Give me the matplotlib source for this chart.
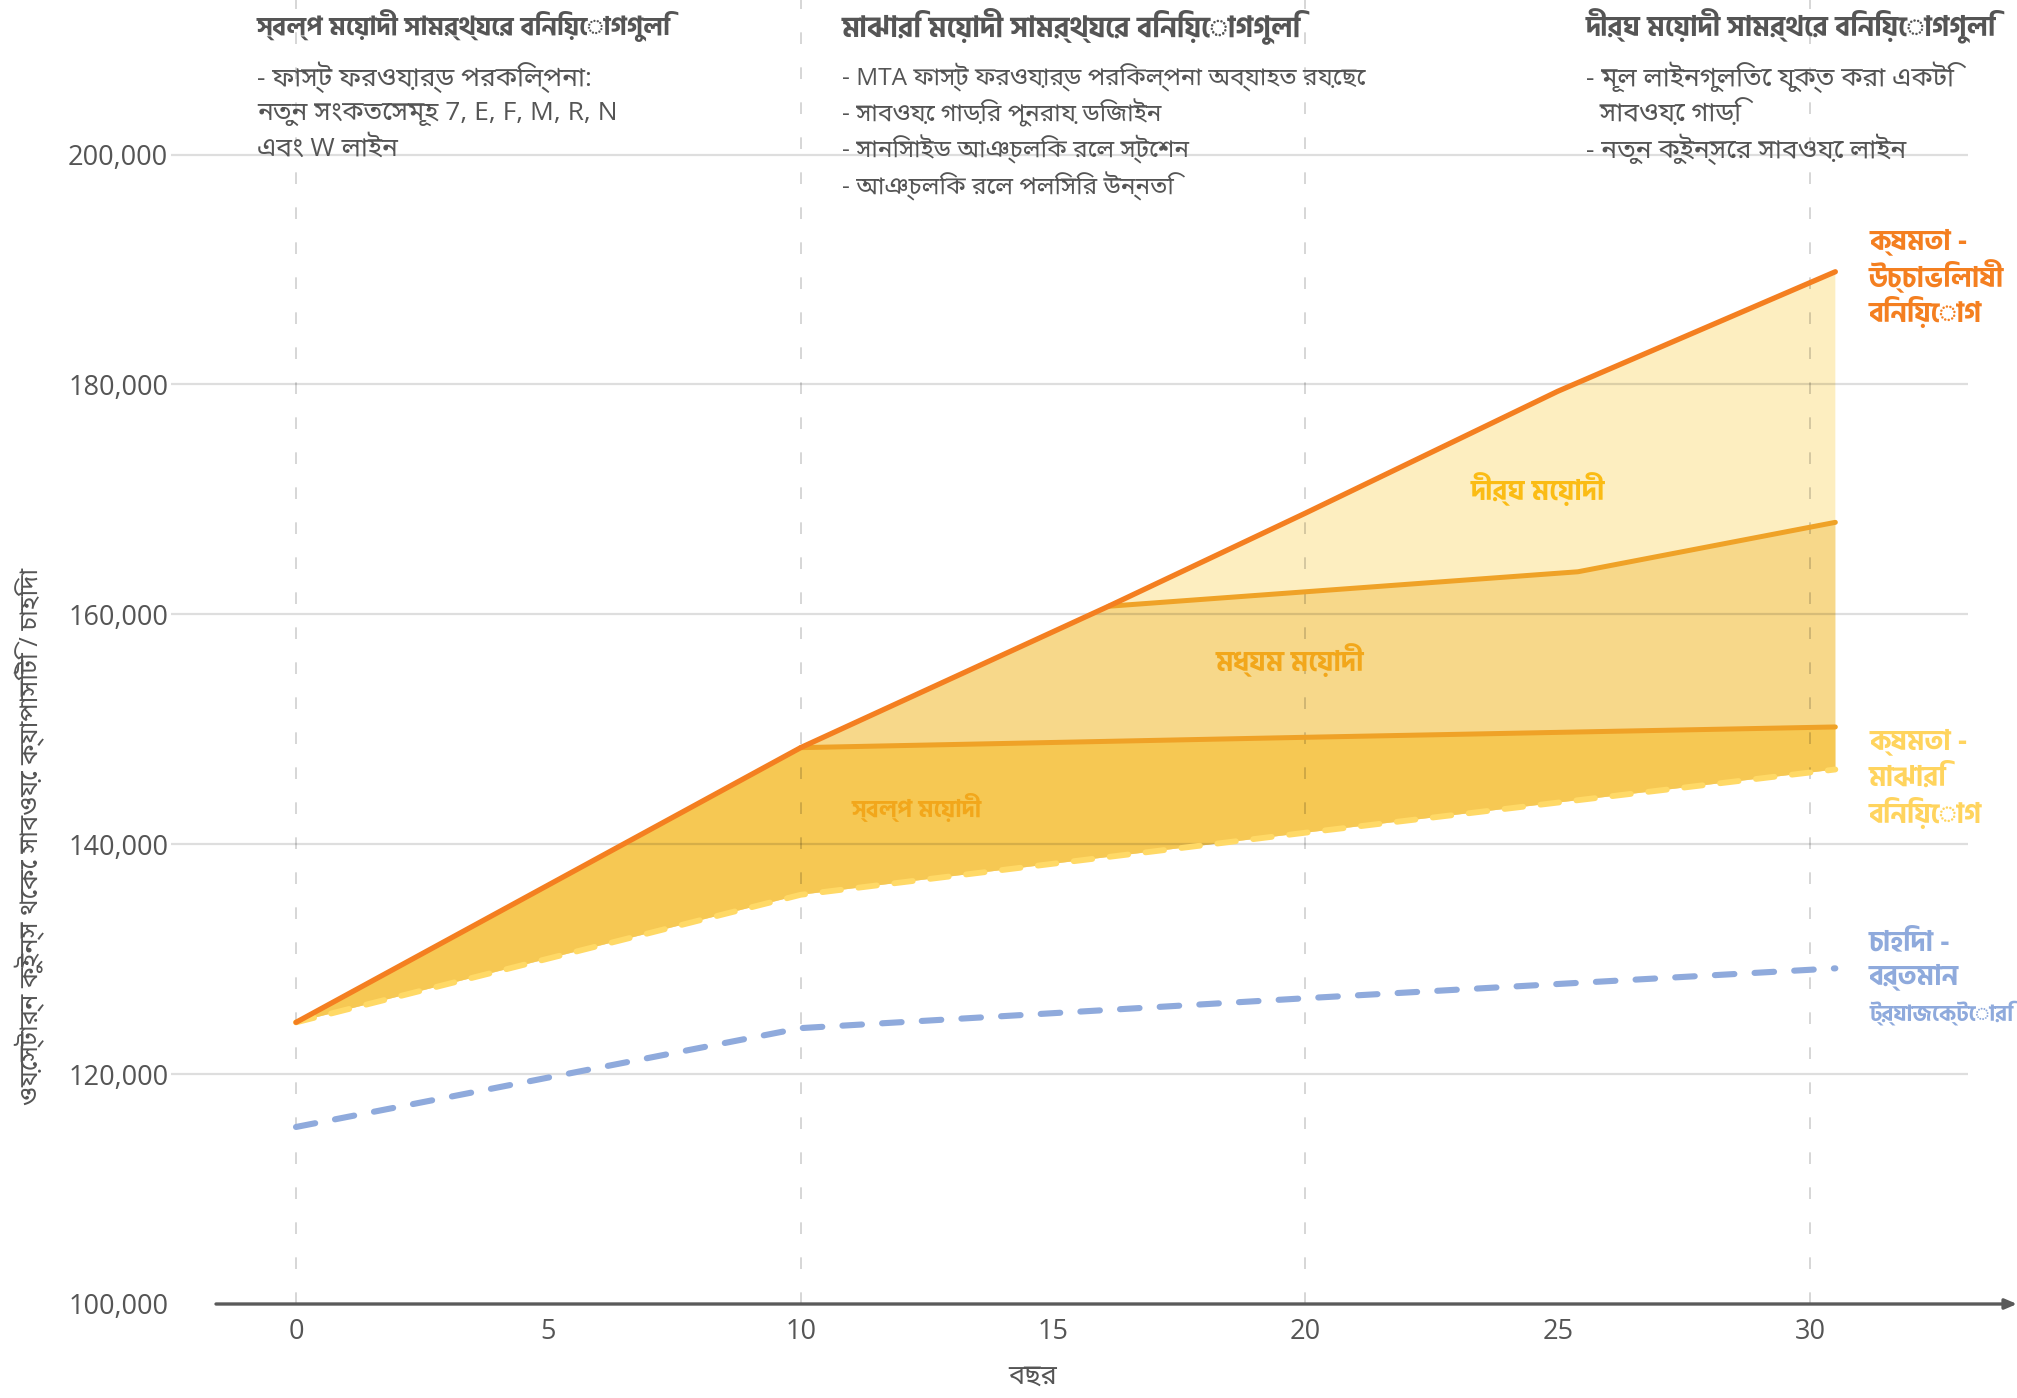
import numpy as np
import matplotlib
matplotlib.use("Agg")
import matplotlib.pyplot as plt
from matplotlib import font_manager
from matplotlib.ft2font import FT2Font

# ---------------- data ----------------
years_amb = [0, 10, 16.1, 20, 25, 30.5]
cap_ambitious = [124500, 148400, 160700, 168800, 179400, 189800]

years_mid_top = [16.1, 25.4, 30.5]
mid_term_top = [160700, 163700, 168000]

years_short_top = [10, 20, 30.5]
short_term_top = [148400, 149300, 150200]

years_mod = [0, 10, 20, 30.5]
cap_moderate = [124500, 135600, 141000, 146500]

years_dem = [0, 10, 20, 30.5]
demand = [115400, 124000, 126600, 129200]

x_ticks = [0, 5, 10, 15, 20, 25, 30]
y_ticks = [100000, 120000, 140000, 160000, 180000, 200000]

headers = [
    "স্বল্প মেয়াদী সামর্থ্যের বিনিয়োগগুলি",
    "মাঝারি মেয়াদী সামর্থ্যের বিনিয়োগগুলি",
    "দীর্ঘ মেয়াদী সামর্থের বিনিয়োগগুলি",
]
bodies = [
    ["- ফাস্ট ফরওয়ার্ড পরকিল্পনা:", "নতুন সংকতেসমূহ 7, E, F, M, R, N", "এবং W লাইন"],
    ["- MTA ফাস্ট ফরওয়ার্ড পরিকল্পনা অব্যাহত রয়েছে", "- সাবওয়ে গাড়ির পুনরায় ডিজাইন",
     "- সানিসাইড আঞ্চলিক রেল স্টেশন", "- আঞ্চলিক রেল পলিসির উন্নতি"],
    ["- মূল লাইনগুলিতে যুক্ত করা একটি", "  সাবওয়ে গাড়ি", "- নতুন কুইন্সের সাবওয়ে লাইন"],
]
label_amb = ["ক্ষমতা -", "উচ্চাভিলাষী", "বিনিয়োগ"]
label_mod = ["ক্ষমতা -", "মাঝারি", "বিনিয়োগ"]
label_dem = ["চাহিদা -", "বর্তমান", "ট্র্যাজেক্টোরি"]
region_labels = ["দীর্ঘ মেয়াদী", "মধ্যম মেয়াদী", "স্বল্প মেয়াদী"]
x_label = "বছর"
y_label = "ওয়েস্টার্ন কুইন্স থেকে সাবওয়ে ক্যাপাসিটি / চাহিদা"

# ---------------- fonts ----------------
def bengali_fonts():
    seen, info = set(), {}
    for f in font_manager.fontManager.ttflist:
        if f.fname in seen:
            continue
        seen.add(f.fname)
        try:
            cm = FT2Font(f.fname).get_charmap()
        except Exception:
            continue
        if 0x0995 in cm and 0x09BE in cm:
            w = f.weight if isinstance(f.weight, int) else font_manager.weight_dict.get(f.weight, 400)
            info.setdefault(f.name, set()).add(w)
    return info

info = bengali_fonts()
preferred = ["Noto Sans Bengali", "Hind Siliguri", "Noto Sans Bengali UI", "Anek Bangla",
             "Lohit Bengali", "Baloo Da 2", "Galada", "Mina", "Atma"]
with_bold = [p for p in preferred if p in info and max(info[p]) >= 600]
beng_regular = next((p for p in preferred if p in info), next(iter(info), None))
beng_bold = with_bold[0] if with_bold else beng_regular

fam_reg = ["Open Sans"] + ([beng_regular] if beng_regular else []) + ["DejaVu Sans"]
fam_bold = ["Open Sans"] + ([beng_bold] if beng_bold else []) + ["DejaVu Sans"]
plt.rcParams["font.family"] = fam_reg

# ---------------- colours ----------------
c_orange = "#F47F20"
c_amber = "#EFA227"
c_ylw_dash = "#FFD966"
c_blue = "#8FAADC"
c_fill_dark = "#F6C853"
c_fill_mid = "#F7D88A"
c_fill_light = "#FDEEC0"
c_text = "#555555"

W, H = 2017, 1398
fig = plt.figure(figsize=(W / 100, H / 100), dpi=100)

# axes geometry (pixel based)
x0_px, px_per_year = 296, 50.47
y100_px, px_per_k = 1304, 11.495
ax_left_px = 171
ax = fig.add_axes([ax_left_px / W, (H - y100_px) / H, 1 - ax_left_px / W, y100_px / H])
xmin = (ax_left_px - x0_px) / px_per_year
xmax = (W - x0_px) / px_per_year
ymax = 100000 + y100_px / px_per_k * 1000
ax.set_xlim(xmin, xmax)
ax.set_ylim(100000, ymax)
for s in ax.spines.values():
    s.set_visible(False)

# fills (polygons from the series' own points)
def poly(top_x, top_y, bot_x, bot_y):
    xs = list(top_x) + list(bot_x[::-1])
    ys = list(top_y) + list(bot_y[::-1])
    return xs, ys

xs, ys = poly(years_amb, cap_ambitious, years_mod, cap_moderate)
ax.fill(xs, ys, color=c_fill_light, lw=0, zorder=1)
i_mid = years_amb.index(years_mid_top[0])
xs, ys = poly(years_amb[:i_mid] + years_mid_top, cap_ambitious[:i_mid] + mid_term_top, years_mod, cap_moderate)
ax.fill(xs, ys, color=c_fill_mid, lw=0, zorder=1)
i_sh = years_amb.index(years_short_top[0])
xs, ys = poly(years_amb[:i_sh] + years_short_top, cap_ambitious[:i_sh] + short_term_top, years_mod, cap_moderate)
ax.fill(xs, ys, color=c_fill_dark, lw=0, zorder=1)

# grid lines
grid_right = (1968 - x0_px) / px_per_year
ax.hlines(y_ticks[1:], xmin, grid_right, color=(0, 0, 0, 0.13), lw=1.6, zorder=2)
for xv in [0, 10, 20, 30]:
    ax.plot([xv, xv], [100000, ymax], color=(0, 0, 0, 0.16), lw=1.4,
            linestyle=(0, (6, 12)), zorder=2, clip_on=False)

# lines
ax.plot(years_short_top, short_term_top, color=c_amber, lw=3.6, solid_capstyle="round", zorder=4)
ax.plot(years_mid_top, mid_term_top, color=c_amber, lw=3.6, solid_capstyle="round", zorder=4)
ax.plot(years_mod, cap_moderate, color=c_ylw_dash, lw=4.2, linestyle=(0, (3.2, 3.0)),
        dash_capstyle="round", zorder=4)
ax.plot(years_amb, cap_ambitious, color=c_orange, lw=3.8, solid_capstyle="round", zorder=5)
ax.plot(years_dem, demand, color=c_blue, lw=4.4, linestyle=(0, (3.2, 3.3)),
        dash_capstyle="round", zorder=4)

# x axis with arrow
ax.annotate("", xy=(xmax, 100000), xytext=((216 - x0_px) / px_per_year, 100000),
            arrowprops=dict(arrowstyle="-|>,head_length=0.7,head_width=0.3", color="#5A5A5A",
                            lw=2.4, shrinkA=0, shrinkB=0),
            annotation_clip=False, zorder=6)

# ticks
ax.set_xticks(x_ticks)
ax.set_xticklabels([str(v) for v in x_ticks])
ax.set_yticks(y_ticks)
ax.set_yticklabels([f"{v:,}" for v in y_ticks])
ax.tick_params(axis="both", length=0, colors=c_text, labelsize=19.5)
ax.tick_params(axis="x", pad=10)
ax.tick_params(axis="y", pad=2)

xl = ax.set_xlabel(x_label, fontsize=19.5, color=c_text)
ax.xaxis.set_label_coords((14.6 - xmin) / (xmax - xmin), -0.045)
yl = ax.set_ylabel(y_label, fontsize=19.5, color=c_text)
ax.yaxis.set_label_coords((45 - ax_left_px) / (W - ax_left_px), (y100_px - 836) / y100_px)

groups = []  # (list of texts, target width of widest line px, max fontsize)

def line_block(x_px, y_centers_px, lines, fs, bold, color):
    ts = []
    for yc, ln in zip(y_centers_px, lines):
        ts.append(fig.text(x_px / W, 1 - yc / H, ln, fontsize=fs,
                           fontweight="bold" if bold else "normal",
                           family=fam_bold if bold else fam_reg,
                           color=color, ha="left", va="center"))
    return ts

# headers
head_x = [257, 842, 1586]
head_w = [413, 459, 411]
body_w = [361, 523, 370]
body_y = [77, 113, 149, 186]
for hx, h, b, hw, bw in zip(head_x, headers, bodies, head_w, body_w):
    groups.append((line_block(hx, [26], [h], 22, True, c_text), hw, 22))
    groups.append((line_block(hx, body_y[:len(b)], b, 19, False, c_text), bw, 19))

# right-hand series labels
groups.append((line_block(1869, [242, 277, 313], label_amb, 20, True, c_orange), 144, 20))
groups.append((line_block(1869, [742, 778, 814], label_mod, 20, True, "#FFD45E"), 113, 20))
for tt in line_block(1869, [943, 977, 1013], label_dem, 20, True, c_blue):
    groups.append(([tt], 144, 20))

# region labels
for (xv, yv, txt, col, tw) in [(24.6, 170800, region_labels[0], "#FBBC15", 136),
                               (19.7, 155900, region_labels[1], "#F2A71B", 152),
                               (12.3, 143100, region_labels[2], "#F2A71B", 130)]:
    t = ax.text(xv, yv, txt, fontsize=20, fontweight="bold", family=fam_bold, color=col,
                ha="center", va="center", zorder=7)
    groups.append(([t], tw, 20))
groups.append(([xl], 55, 19.5))

fig.canvas.draw()
r = fig.canvas.get_renderer()
for ts, target, mx in groups:
    w = max(t.get_window_extent(r).width for t in ts)
    if w > 0:
        fs = min(mx, ts[0].get_fontsize() * target / w)
        for t in ts:
            t.set_fontsize(fs)
h = yl.get_window_extent(r).height
if h > 0:
    yl.set_fontsize(min(19.5, yl.get_fontsize() * 538 / h))

fig.savefig("out.png", dpi=100)
